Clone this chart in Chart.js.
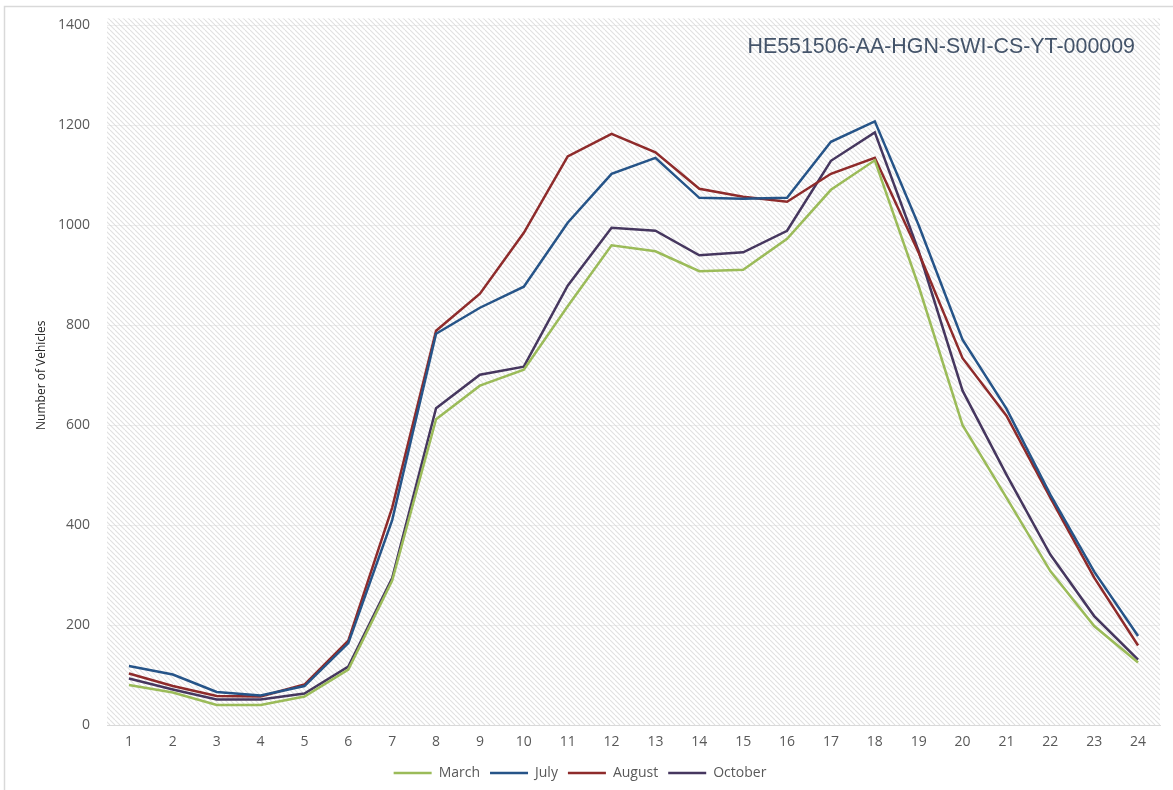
<!DOCTYPE html>
<html>
<head>
<meta charset="utf-8">
<script src="https://cdn.jsdelivr.net/npm/chart.js@4.4.1/dist/chart.umd.min.js"></script>
<style>
  html, body { margin: 0; padding: 0; background: #ffffff; }
  #wrap { width: 1173px; height: 790px; position: relative; }
  canvas { display: block; }
</style>
</head>
<body>
<div id="wrap"><canvas id="c" width="1173" height="790"></canvas></div>
<script>
const hours = ['1','2','3','4','5','6','7','8','9','10','11','12','13','14','15','16','17','18','19','20','21','22','23','24'];
const march   = [80, 65, 40, 40, 57, 111, 289, 612, 679, 711, 838, 960, 948, 908, 911, 973, 1071, 1130, 878, 600, 455, 308, 198, 125];
const july    = [118, 101, 66, 59, 78, 164, 410, 783, 835, 877, 1005, 1103, 1135, 1055, 1053, 1055, 1167, 1208, 1000, 771, 633, 461, 307, 178];
const august  = [103, 78, 58, 57, 81, 169, 435, 789, 863, 985, 1138, 1183, 1146, 1073, 1057, 1047, 1103, 1135, 945, 734, 619, 455, 295, 159];
const october = [93, 71, 51, 51, 63, 117, 294, 634, 701, 717, 879, 995, 989, 940, 946, 989, 1129, 1186, 948, 669, 501, 341, 218, 131];
const yTicks  = [0, 200, 400, 600, 800, 1000, 1200, 1400];
const chartTitle = 'HE551506-AA-HGN-SWI-CS-YT-000009';
const yTitle = 'Number of Vehicles';

function makePattern() {
  const t = document.createElement('canvas');
  const s = 5;
  t.width = s; t.height = s;
  const g = t.getContext('2d');
  g.fillStyle = '#ffffff';
  g.fillRect(0, 0, s, s);
  g.strokeStyle = '#e0e0e0';
  g.lineWidth = 1.1;
  for (let k = -1; k <= 1; k++) {
    g.beginPath();
    g.moveTo(k * s, 0);
    g.lineTo(k * s + s, s);
    g.stroke();
  }
  return g.createPattern(t, 'repeat');
}

const bgPlugin = {
  id: 'bg',
  beforeDraw(chart) {
    const ctx = chart.ctx;
    const a = chart.chartArea;
    ctx.save();
    ctx.fillStyle = makePattern();
    ctx.fillRect(a.left, a.top - 7, a.right - a.left, a.bottom - a.top + 7);
    ctx.strokeStyle = '#d9d9d9';
    ctx.lineWidth = 1.5;
    ctx.beginPath();
    ctx.moveTo(4.5, 800);
    ctx.lineTo(4.5, 6.5);
    ctx.lineTo(1180, 6.5);
    ctx.stroke();
    ctx.restore();
  },
  afterDraw(chart) {
    const ctx = chart.ctx;
    const a = chart.chartArea;
    ctx.save();
    ctx.font = '21.4px "Liberation Sans", Arial, sans-serif';
    ctx.fillStyle = '#44546A';
    ctx.textAlign = 'right';
    ctx.textBaseline = 'middle';
    ctx.fillText(chartTitle, a.right - 25, 47);
    ctx.restore();
  }
};

const mk = (label, data, color) => ({
  label, data,
  borderColor: color,
  backgroundColor: color,
  borderWidth: 2.5,
  pointRadius: 0,
  pointHoverRadius: 0,
  tension: 0,
  fill: false
});

new Chart(document.getElementById('c'), {
  type: 'line',
  data: {
    labels: hours,
    datasets: [
      mk('March', march, '#9BBB59'),
      mk('July', july, '#265488'),
      mk('August', august, '#8E2B2B'),
      mk('October', october, '#46375F')
    ]
  },
  options: {
    responsive: false,
    animation: false,
    devicePixelRatio: 1,
    layout: { padding: { top: 24, right: 13, left: 0, bottom: 0 } },
    plugins: {
      legend: {
        position: 'bottom',
        labels: {
          usePointStyle: true,
          pointStyle: 'line',
          pointStyleWidth: 38,
          font: { family: '"Open Sans", sans-serif', size: 14 },
          color: '#595959',
          padding: 10,
          boxHeight: 13
        }
      },
      tooltip: { enabled: false }
    },
    scales: {
      x: {
        offset: true,
        grid: { display: false, drawTicks: false },
        border: { display: true, color: '#d9d9d9', width: 1 },
        ticks: {
          color: '#595959',
          font: { family: '"Open Sans", sans-serif', size: 14 },
          padding: 9,
          maxRotation: 0,
          autoSkip: false
        },
        afterFit(scale) { scale.height = 31; }
      },
      y: {
        min: 0,
        max: 1400,
        afterBuildTicks(scale) { scale.ticks = yTicks.map(v => ({ value: v })); },
        grid: { color: 'rgba(200,200,200,0.3)', drawTicks: false },
        border: { display: false },
        ticks: {
          color: '#595959',
          font: { family: '"Open Sans", sans-serif', size: 14 },
          padding: 17,
          callback: (v) => String(v)
        },
        title: {
          display: true,
          text: yTitle,
          color: '#262626',
          font: { family: '"Open Sans", sans-serif', size: 12 },
          padding: { top: 34, bottom: 0 }
        },
        afterFit(scale) { scale.width = 107; }
      }
    }
  },
  plugins: [bgPlugin]
});
</script>
</body>
</html>
